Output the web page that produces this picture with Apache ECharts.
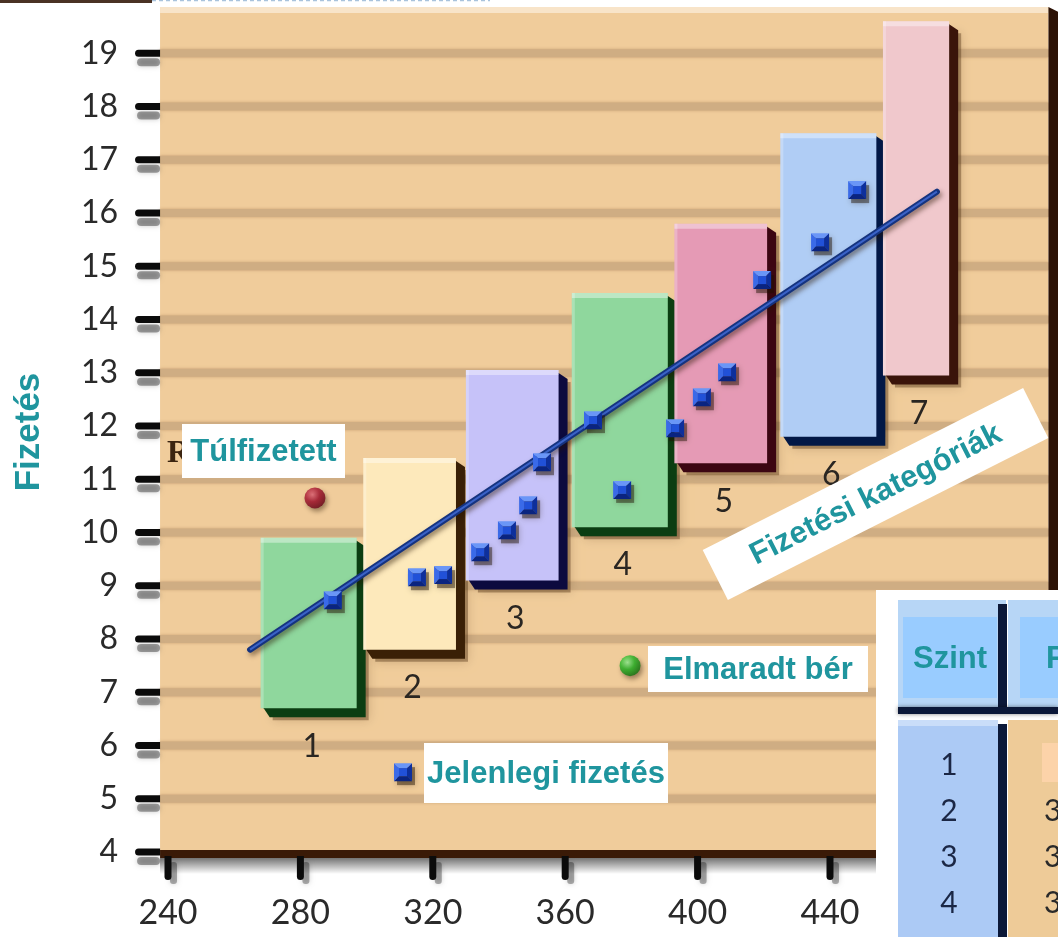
<!DOCTYPE html>
<html>
<head>
<meta charset="utf-8">
<script src="https://cdn.jsdelivr.net/npm/echarts@6/dist/echarts.min.js"></script>
<style>
  html, body { margin: 0; padding: 0; background: #ffffff; }
  #chart { width: 1058px; height: 937px; }
</style>
</head>
<body>
<div id="chart"></div>
<script>
// Pay levels: each band spans a range of job points (x) and a pay range (y)
const levels     = ['1', '2', '3', '4', '5', '6', '7'];
const bandXStart = [268, 299, 330, 362, 393, 425, 456];
const bandXEnd   = [297, 327, 358, 391, 421, 454, 476];
const bandYMin   = [6.7, 7.8, 9.1, 10.1, 11.3, 11.8, 12.95];
const bandYMax   = [9.9, 11.4, 13.05, 14.5, 15.8, 17.5, 19.6];

// Current salaries (job points, pay)
const currentX = [289.8, 315.2, 323.1, 334.3, 342.4, 348.8, 353.0, 368.4, 377.2, 393.2, 401.3, 408.9, 419.5, 437.0, 448.2];
const currentY = [8.73, 9.16, 9.20, 9.63, 10.04, 10.51, 11.32, 12.11, 10.80, 11.96, 12.54, 13.01, 14.74, 15.45, 16.43];

// Pay line
const trendX = [264.8, 472.3];
const trendY = [7.8, 16.4];

// Highlighted employees
const overpaid  = [284.4, 10.65];
const underpaid = [379.6, 7.5];
const legendMark = [311.0, 5.5];

// Axis ticks
const xTicks = [240, 280, 320, 360, 400, 440, 480];
const yTicks = [4, 5, 6, 7, 8, 9, 10, 11, 12, 13, 14, 15, 16, 17, 18, 19];

// Level table
const tableHeader = ['Szint', 'Fizetés'];
const tableLevels = ['1', '2', '3', '4'];
const tablePay    = ['', '3', '3', '3'];

// Frame of the plotting board, in axis units
const frameX = [237.6, 506];
const frameTop = 19.87;

const faceColors = ['#8fd79d', '#fde9bb', '#c6c2f9', '#8fd79d', '#e59ab5', '#b0cdf5', '#f0c8cc'];
const sideColors = ['#0b3d12', '#3a2006', '#0c0a3e', '#0b3d12', '#3c0612', '#021846', '#3a140a'];

const TEAL = '#1f959e';
const SANS = '"Liberation Sans", Arial, sans-serif';
const NUM = 'Lato, "Noto Sans", sans-serif';

function renderFrame(params, api) {
  const tl = api.coord([frameX[0], frameTop]);
  const br = api.coord([frameX[1], yTicks[0]]);
  const L = tl[0], T = tl[1], R = br[0], B = br[1];
  const ch = [];
  ch.push({ type: 'rect', shape: { x: L, y: T, width: R - L, height: B - T }, style: { fill: '#f0cc9b' } });
  ch.push({ type: 'rect', shape: { x: L, y: T, width: R - L, height: 6 }, style: { fill: '#f8e4c9' } });
  yTicks.forEach(function (v, k) {
    if (k === 0) return;
    const y = api.coord([frameX[0], v])[1];
    ch.push({ type: 'rect', shape: { x: L, y: y - 4, width: R - L, height: 8 },
      style: { fill: '#cfad83', shadowBlur: 3, shadowColor: 'rgba(190,150,105,0.8)' } });
  });
  // right and bottom faces of the board
  ch.push({ type: 'polygon', shape: { points: [[R, T], [R + 10, T + 5], [R + 10, B + 6], [R, B]] }, style: { fill: '#2c1206' } });
  ch.push({ type: 'polygon', shape: { points: [[L, B - 2], [R, B - 2], [R + 10, B + 6], [L, B + 6]] }, style: { fill: '#3a1a07' } });
  ch.push({ type: 'rect', shape: { x: L, y: B + 6, width: R - L + 10, height: 16 },
    style: { fill: new echarts.graphic.LinearGradient(0, 0, 0, 1, [
      { offset: 0, color: 'rgba(0,0,0,0.55)' }, { offset: 1, color: 'rgba(0,0,0,0)' }]) } });
  // y ticks
  yTicks.forEach(function (v) {
    const y = api.coord([frameX[0], v])[1];
    ch.push({ type: 'rect', shape: { x: L - 23, y: y + 5, width: 23, height: 8, r: 4 },
      style: { fill: 'rgba(0,0,0,0.35)', shadowBlur: 5, shadowColor: 'rgba(0,0,0,0.6)' } });
    ch.push({ type: 'rect', shape: { x: L - 25, y: y - 3.5, width: 25, height: 7, r: [3.5, 0, 0, 3.5] },
      style: { fill: '#0b0b0b' } });
  });
  // x ticks
  xTicks.forEach(function (v) {
    const x = api.coord([v, yTicks[0]])[0];
    ch.push({ type: 'rect', shape: { x: x + 2, y: B + 10, width: 7, height: 22, r: 3 },
      style: { fill: 'rgba(0,0,0,0.3)', shadowBlur: 5, shadowColor: 'rgba(0,0,0,0.6)' } });
    ch.push({ type: 'rect', shape: { x: x - 3.5, y: B + 4, width: 7, height: 24, r: [0, 0, 3.5, 3.5] },
      style: { fill: '#0b0b0b' } });
  });
  return { type: 'group', children: ch };
}

function renderBand(params, api) {
  const i = api.value(4);
  const p0 = api.coord([api.value(0), api.value(3)]);
  const p1 = api.coord([api.value(1), api.value(2)]);
  const x = p0[0], y = p0[1], w = p1[0] - p0[0], h = p1[1] - p0[1];
  const d = 9;
  return {
    type: 'group',
    children: [
      { type: 'rect', shape: { x: x + d + 3, y: y + d + 3, width: w, height: h },
        style: { fill: 'rgba(60,30,0,0.35)', shadowBlur: 10, shadowColor: 'rgba(60,30,0,0.55)' } },
      { type: 'polygon', shape: { points: [[x + 3, y + 3], [x + w, y + 3], [x + w + d, y + d], [x + w + d, y + h + d], [x + d, y + h + d], [x + 3, y + h]] },
        style: { fill: sideColors[i] } },
      { type: 'rect', shape: { x: x, y: y, width: w, height: h }, style: { fill: faceColors[i] } },
      { type: 'rect', shape: { x: x, y: y, width: w, height: 5 }, style: { fill: 'rgba(255,255,255,0.4)' } },
      { type: 'rect', shape: { x: x, y: y, width: 3, height: h }, style: { fill: 'rgba(255,255,255,0.25)' } },
      { type: 'text', x: x + w / 2 + 3, y: y + h + 38,
        style: { text: levels[i], fill: '#2a2622', font: '32px ' + NUM, align: 'center', verticalAlign: 'middle' } }
    ]
  };
}

function renderSquare(params, api) {
  const c = api.coord([api.value(0), api.value(1)]);
  const s = 9, n = 4;
  const P = function (pts) { return pts.map(function (p) { return [c[0] + p[0], c[1] + p[1]]; }); };
  return {
    type: 'group',
    children: [
      { type: 'rect', shape: { x: c[0] - s + 3, y: c[1] - s + 4, width: 2 * s, height: 2 * s },
        style: { fill: 'rgba(30,15,0,0.45)', shadowBlur: 6, shadowColor: 'rgba(30,15,0,0.6)' } },
      { type: 'polygon', shape: { points: P([[-s, -s], [s, -s], [n, -n], [-n, -n]]) }, style: { fill: '#6a96f7' } },
      { type: 'polygon', shape: { points: P([[-s, -s], [-n, -n], [-n, n], [-s, s]]) }, style: { fill: '#3a6ae8' } },
      { type: 'polygon', shape: { points: P([[s, -s], [s, s], [n, n], [n, -n]]) }, style: { fill: '#0d2f9c' } },
      { type: 'polygon', shape: { points: P([[-s, s], [-n, n], [n, n], [s, s]]) }, style: { fill: '#0a2480' } },
      { type: 'rect', shape: { x: c[0] - n, y: c[1] - n, width: 2 * n, height: 2 * n }, style: { fill: '#2151d8' } }
    ]
  };
}

function ball(light, mid, dark) {
  return new echarts.graphic.RadialGradient(0.38, 0.35, 0.75, [
    { offset: 0, color: light }, { offset: 0.45, color: mid }, { offset: 1, color: dark }]);
}

const chart = echarts.init(document.getElementById('chart'), null, { renderer: 'canvas' });

const option = {
  backgroundColor: '#ffffff',
  animation: false,
  grid: { left: 168, top: 0, right: 29.4, bottom: 85 },
  xAxis: {
    type: 'value', min: 240, max: 500, interval: 40,
    axisLine: { show: false }, axisTick: { show: false }, splitLine: { show: false },
    axisLabel: {
      margin: 44, fontFamily: NUM, fontSize: 34, color: '#2a2a2a',
      formatter: function (v) { return xTicks.indexOf(v) >= 0 ? String(v) : ''; }
    }
  },
  yAxis: {
    type: 'value', min: 4, max: 20, interval: 1, offset: 8,
    axisLine: { show: false }, axisTick: { show: false }, splitLine: { show: false },
    axisLabel: {
      margin: 42, fontFamily: NUM, fontSize: 32, color: '#2a2a2a',
      formatter: function (v) { return yTicks.indexOf(v) >= 0 ? String(v) : ''; }
    }
  },
  series: [
    { type: 'custom', name: 'board', z: 1, silent: true, clip: false,
      renderItem: renderFrame, data: [[frameX[0], yTicks[0]]] },
    { type: 'custom', name: 'Fizetési kategóriák', z: 2, silent: true, clip: false,
      renderItem: renderBand,
      encode: { x: [0, 1], y: [2, 3] },
      data: levels.map(function (l, i) { return [bandXStart[i], bandXEnd[i], bandYMin[i], bandYMax[i], i]; }) },
    { type: 'line', name: 'trend', z: 3, silent: true, symbol: 'none',
      data: trendX.map(function (x, i) { return [x, trendY[i]]; }),
      lineStyle: { width: 6, cap: 'round', color: '#15337f', shadowBlur: 5, shadowColor: 'rgba(40,20,0,0.5)', shadowOffsetY: 3, shadowOffsetX: 2 } },
    { type: 'line', name: 'trend-hl', z: 3, silent: true, symbol: 'none',
      data: trendX.map(function (x, i) { return [x, trendY[i]]; }),
      lineStyle: { width: 2, color: '#3a62c8' } },
    { type: 'custom', name: 'Jelenlegi fizetés', z: 4, silent: true, clip: false,
      renderItem: renderSquare,
      data: currentX.map(function (x, i) { return [x, currentY[i]]; }).concat([legendMark]) },
    { type: 'scatter', name: 'Túlfizetett', z: 4, silent: true, symbol: 'circle', symbolSize: 21,
      data: [overpaid],
      itemStyle: { color: ball('#e86a7c', '#a8142f', '#5e0314'), shadowBlur: 5, shadowColor: 'rgba(40,20,0,0.55)', shadowOffsetX: 2, shadowOffsetY: 3 } },
    { type: 'scatter', name: 'Elmaradt bér', z: 4, silent: true, symbol: 'circle', symbolSize: 21,
      data: [underpaid],
      itemStyle: { color: ball('#9af59a', '#25b825', '#0a640a'), shadowBlur: 5, shadowColor: 'rgba(40,20,0,0.55)', shadowOffsetX: 2, shadowOffsetY: 3 } }
  ],
  graphic: { elements: [
    // top strip
    { type: 'rect', z: 100, shape: { x: 0, y: 0, width: 152, height: 3 }, style: { fill: '#4a3224' } },
    { type: 'line', z: 100, shape: { x1: 152, y1: 0.5, x2: 490, y2: 0.5 }, style: { stroke: '#a9c3dc', lineWidth: 1.5, lineDash: [4, 3] } },

    // axis title
    { type: 'text', z: 100, x: 29, y: 432, rotation: Math.PI / 2,
      style: { text: 'Fizetés', fill: TEAL, font: 'bold 35px ' + SANS, align: 'center', verticalAlign: 'middle' } },

    // callouts
    { type: 'text', z: 100, x: 167, y: 454,
      style: { text: 'R', fill: '#3b2410', font: 'bold 32px "Liberation Serif", serif', align: 'left', verticalAlign: 'middle' } },
    { type: 'rect', z: 100, shape: { x: 182, y: 424, width: 163, height: 54 }, style: { fill: '#ffffff' } },
    { type: 'text', z: 101, x: 263.5, y: 452,
      style: { text: 'Túlfizetett', fill: TEAL, font: 'bold 31px ' + SANS, align: 'center', verticalAlign: 'middle' } },

    { type: 'rect', z: 100, shape: { x: 648, y: 646, width: 220, height: 46 }, style: { fill: '#ffffff' } },
    { type: 'text', z: 101, x: 758, y: 670,
      style: { text: 'Elmaradt bér', fill: TEAL, font: 'bold 31px ' + SANS, align: 'center', verticalAlign: 'middle' } },

    { type: 'rect', z: 100, shape: { x: 424, y: 743, width: 244, height: 60 }, style: { fill: '#ffffff' } },
    { type: 'text', z: 101, x: 546, y: 774,
      style: { text: 'Jelenlegi fizetés', fill: TEAL, font: 'bold 31px ' + SANS, align: 'center', verticalAlign: 'middle' } },

    { type: 'group', z: 100, x: 875.5, y: 494, rotation: 26.8 * Math.PI / 180, children: [
      { type: 'rect', z: 100, shape: { x: -179.5, y: -28, width: 359, height: 56 }, style: { fill: '#ffffff' } },
      { type: 'text', z: 101, x: 0, y: 1,
        style: { text: 'Fizetési kategóriák', fill: TEAL, font: 'bold 31px ' + SANS, align: 'center', verticalAlign: 'middle' } }
    ] },

    // level table
    { type: 'rect', z: 110, shape: { x: 876, y: 590, width: 182, height: 347 }, style: { fill: '#ffffff' } },
    { type: 'rect', z: 111, shape: { x: 898, y: 600, width: 108, height: 107 }, style: { fill: '#b7d6f6' } },
    { type: 'rect', z: 112, shape: { x: 903, y: 617, width: 94, height: 81 }, style: { fill: '#99ccff' } },
    { type: 'rect', z: 112, shape: { x: 998, y: 604, width: 9, height: 110 }, style: { fill: '#0b1838' } },
    { type: 'rect', z: 111, shape: { x: 1008, y: 600, width: 50, height: 107 }, style: { fill: '#b7d6f6' } },
    { type: 'rect', z: 112, shape: { x: 1020, y: 617, width: 38, height: 81 }, style: { fill: '#99ccff' } },
    { type: 'rect', z: 112, shape: { x: 898, y: 707, width: 160, height: 7 }, style: { fill: '#0b1838', shadowBlur: 4, shadowColor: 'rgba(0,0,0,0.5)' } },
    { type: 'text', z: 113, x: 950, y: 659,
      style: { text: tableHeader[0], fill: TEAL, font: 'bold 31px ' + SANS, align: 'center', verticalAlign: 'middle' } },
    { type: 'text', z: 113, x: 1046, y: 659,
      style: { text: tableHeader[1], fill: TEAL, font: 'bold 31px ' + SANS, align: 'left', verticalAlign: 'middle' } },

    { type: 'rect', z: 111, shape: { x: 898, y: 720, width: 100, height: 217 }, style: { fill: '#accaf5' } },
    { type: 'rect', z: 112, shape: { x: 898, y: 720, width: 100, height: 6 }, style: { fill: '#c9ddf9' } },
    { type: 'rect', z: 112, shape: { x: 998, y: 724, width: 9, height: 213 }, style: { fill: '#0b1838' } },
    { type: 'rect', z: 111, shape: { x: 1008, y: 720, width: 50, height: 217 }, style: { fill: '#eecb98' } },
    { type: 'rect', z: 112, shape: { x: 1042, y: 743, width: 16, height: 39 }, style: { fill: '#fcd3a9' } }
  ].concat(tableLevels.map(function (t, r) {
    return { type: 'text', z: 113, x: 949, y: 765 + r * 46,
      style: { text: t, fill: '#1b2745', font: '30px ' + NUM, align: 'center', verticalAlign: 'middle' } };
  })).concat(tablePay.map(function (t, r) {
    return { type: 'text', z: 113, x: 1044, y: 765 + r * 46,
      style: { text: t, fill: '#2a2a2a', font: '30px ' + NUM, align: 'left', verticalAlign: 'middle' } };
  })) }
};

chart.setOption(option);
</script>
</body>
</html>
